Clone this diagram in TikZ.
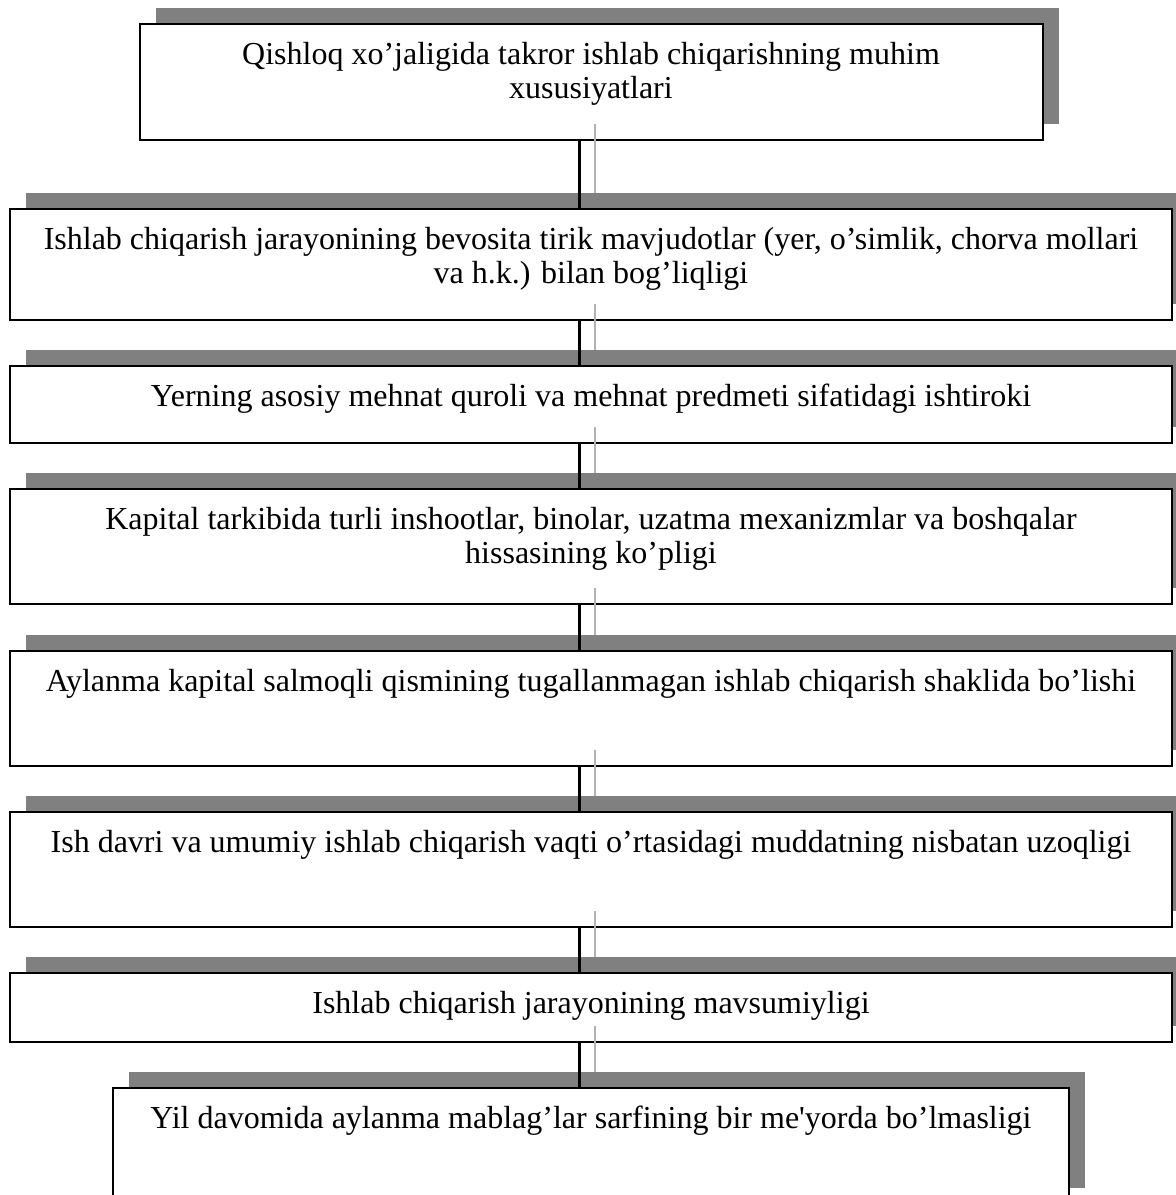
\documentclass[tikz,border=0pt]{standalone}
\usepackage{fontspec}
\setmainfont{Liberation Serif}
\usepackage{tikz}
\usetikzlibrary{positioning,shadows}
\newcommand\boxtext[3]{\parbox[c][#2][t]{#1}{\centering\rule{0pt}{20pt}#3}}

\begin{document}
\begin{tikzpicture}[thick,font=\fontsize{16}{17}\selectfont]
		\tikzstyle{stepbox}=[rectangle,line width=1pt,draw=black,fill=white,inner sep=0pt,outer sep=0pt,
			drop shadow={shadow xshift=8pt,shadow yshift=8pt,opacity=1,fill=black!50}]
		\tikzstyle{link}=[line width=1.5pt,draw=black]
		\tikzstyle{link_shadow}=[line width=1pt,draw=black!30]
		
		\useasboundingbox (0,0) rectangle (588pt,-597.5pt);
		\clip (0,0) rectangle (588pt,-597.5pt);
		
		\node[stepbox,anchor=north] (sarlavha) at (295.5pt,-12pt)
			{\boxtext{451.5pt}{58pt}{Qishloq xo’jaligida takror ishlab chiqarishning muhim\\ xususiyatlari}};
		\node[stepbox] (xus1) [below=34.5pt of sarlavha]
			{\boxtext{581pt}{55.5pt}{Ishlab chiqarish jarayonining bevosita tirik mavjudotlar (yer, o’simlik, chorva mollari\\ va h.k.) bilan bog’liqligi}};
		\node[stepbox] (xus2) [below=23pt of xus1]
			{\boxtext{581pt}{38.5pt}{Yerning asosiy mehnat quroli va mehnat predmeti sifatidagi ishtiroki}};
		\node[stepbox] (xus3) [below=23pt of xus2]
			{\boxtext{581pt}{57.5pt}{Kapital tarkibida turli inshootlar, binolar, uzatma mexanizmlar va boshqalar\\ hissasining ko’pligi}};
		\node[stepbox] (xus4) [below=23.5pt of xus3]
			{\boxtext{581pt}{57.5pt}{Aylanma kapital salmoqli qismining tugallanmagan ishlab chiqarish shaklida bo’lishi}};
		\node[stepbox] (xus5) [below=23pt of xus4]
			{\boxtext{581pt}{57.5pt}{Ish davri va umumiy ishlab chiqarish vaqti o’rtasidagi muddatning nisbatan uzoqligi}};
		\node[stepbox] (xus6) [below=23pt of xus5]
			{\boxtext{581pt}{34.5pt}{Ishlab chiqarish jarayonining mavsumiyligi}};
		\node[stepbox] (xus7) [below=23pt of xus6]
			{\boxtext{478pt}{58pt}{Yil davomida aylanma mablag’lar sarfining bir me\textquotesingle yorda bo’lmasligi}};
		
		% connector shadows
		\draw[link_shadow] ([xshift=2pt,yshift=8pt]sarlavha.south) -- ([xshift=2pt,yshift=8pt]xus1.north);
		\draw[link_shadow] ([xshift=2pt,yshift=8pt]xus1.south) -- ([xshift=2pt,yshift=8pt]xus2.north);
		\draw[link_shadow] ([xshift=2pt,yshift=8pt]xus2.south) -- ([xshift=2pt,yshift=8pt]xus3.north);
		\draw[link_shadow] ([xshift=2pt,yshift=8pt]xus3.south) -- ([xshift=2pt,yshift=8pt]xus4.north);
		\draw[link_shadow] ([xshift=2pt,yshift=8pt]xus4.south) -- ([xshift=2pt,yshift=8pt]xus5.north);
		\draw[link_shadow] ([xshift=2pt,yshift=8pt]xus5.south) -- ([xshift=2pt,yshift=8pt]xus6.north);
		\draw[link_shadow] ([xshift=2pt,yshift=8pt]xus6.south) -- ([xshift=2pt,yshift=8pt]xus7.north);
		% connectors
		\draw[link] ([xshift=-6pt]sarlavha.south) -- ([xshift=-6pt]xus1.north);
		\draw[link] ([xshift=-6pt]xus1.south) -- ([xshift=-6pt]xus2.north);
		\draw[link] ([xshift=-6pt]xus2.south) -- ([xshift=-6pt]xus3.north);
		\draw[link] ([xshift=-6pt]xus3.south) -- ([xshift=-6pt]xus4.north);
		\draw[link] ([xshift=-6pt]xus4.south) -- ([xshift=-6pt]xus5.north);
		\draw[link] ([xshift=-6pt]xus5.south) -- ([xshift=-6pt]xus6.north);
		\draw[link] ([xshift=-6pt]xus6.south) -- ([xshift=-6pt]xus7.north);
	\end{tikzpicture}
\end{document}
